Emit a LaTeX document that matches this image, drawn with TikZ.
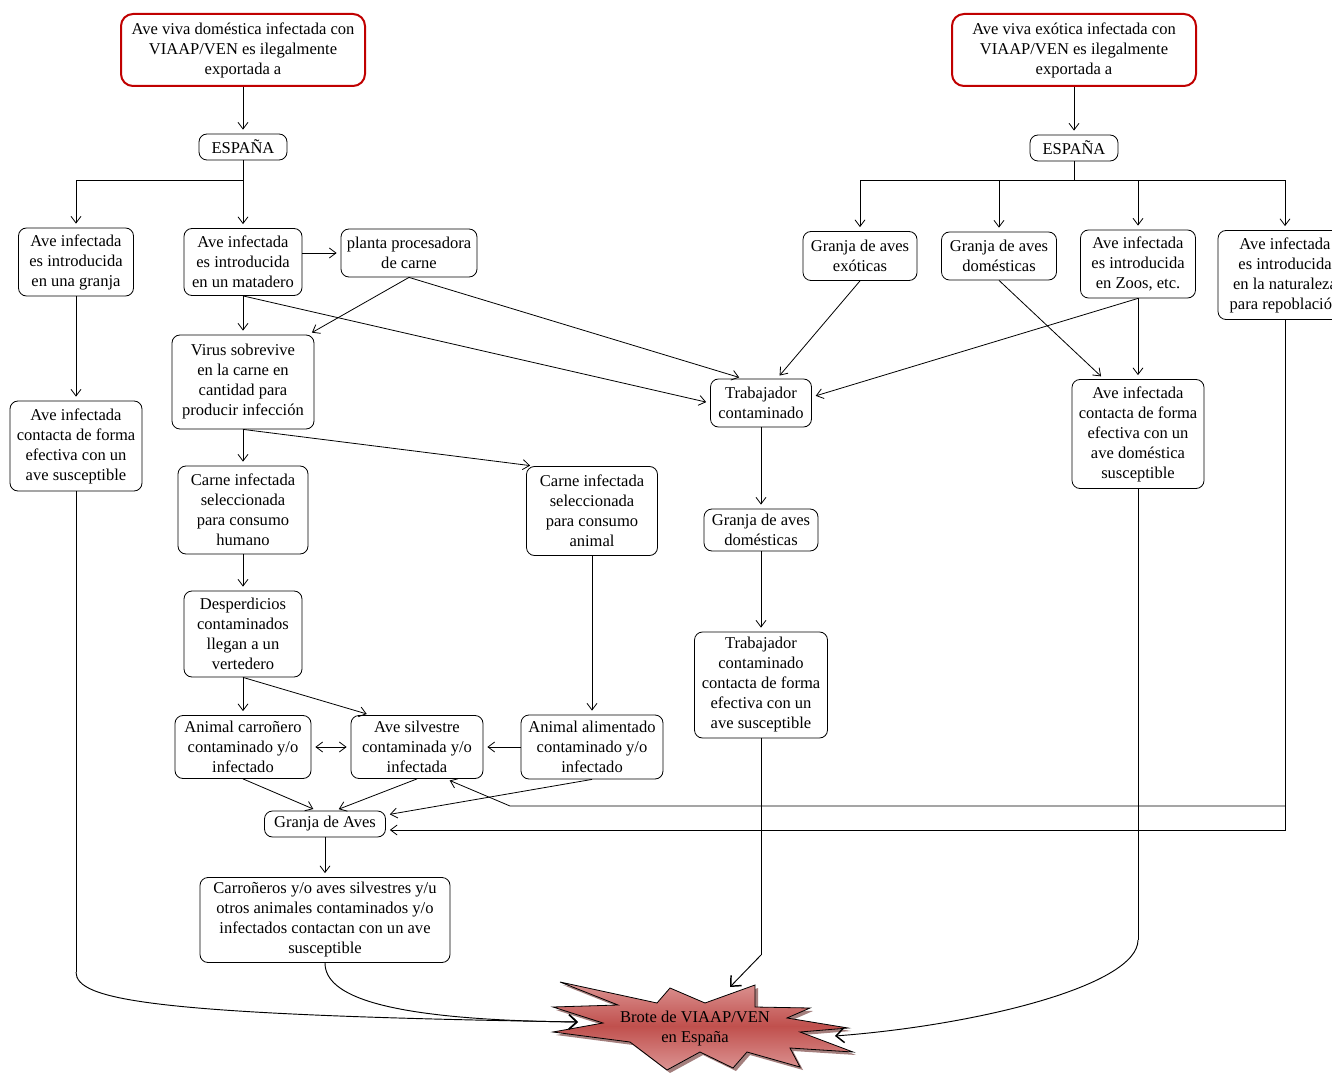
\documentclass[tikz,border=0pt]{standalone}
\usepackage{fontspec}
\setmainfont{Liberation Serif}
\usetikzlibrary{arrows.meta,calc}
\definecolor{boxred}{HTML}{C00000}
\definecolor{starlt}{HTML}{DC9493}
\definecolor{stardk}{HTML}{C0504D}
\definecolor{starsh}{HTML}{5A1614}
\begin{document}
\begin{tikzpicture}[x=0.75pt,y=-0.75pt,
  box/.style={draw, rounded corners=6pt, align=center, inner sep=1pt, line width=0.6pt, font=\fontsize{12.4}{15}\selectfont},
  redbox/.style={box, draw=boxred, line width=1.5pt, rounded corners=9pt},
  sz/.style 2 args={minimum width={#1*0.75pt}, minimum height={#2*0.75pt}},
  ln/.style={line width=0.6pt},
  arr/.style={ln, -{Straight Barb[length=5pt,width=7.5pt]}, shorten >=3pt},
  dbl/.style={ln, {Straight Barb[length=5pt,width=7.5pt]}-{Straight Barb[length=5pt,width=7.5pt]}, shorten >=3pt, shorten <=3pt},
  bigarr/.style={line width=0.7pt, -{Straight Barb[length=6pt,width=11pt,line width=1.1pt]}}
]
\useasboundingbox (0,0) rectangle (1332,1073);
\fill[white] (0,0) rectangle (1332,1073);
\clip (0,0) rectangle (1332,1073);

% ---- starburst ----
\def\starpath{(560,982) -- (657,1003) -- (670,988) -- (705,1003) -- (755,985) -- (755,1007) -- (810,1008) -- (787,1018) -- (848,1028) -- (800,1032) -- (853,1052) -- (790,1048) -- (800,1067) -- (747,1052) -- (733,1068) -- (700,1052) -- (667,1070) -- (630,1042) -- (553,1032) -- (603,1023) -- (553,1007) -- (618,1005) -- cycle}
\fill[starsh, opacity=0.55, shift={(3,3)}] \starpath;
\shade[top color=starlt, bottom color=starlt, middle color=stardk, draw=black, line width=0.6pt] \starpath;
\node[align=center, font=\fontsize{12.4}{15}\selectfont, inner sep=0pt] (brote) at (695,1029) {Brote de VIAAP/VEN\\en España};

% ---- nodes ----
\node[redbox, sz={244}{72}] (topL) at (243,50) {Ave viva doméstica infectada con\\VIAAP/VEN es ilegalmente\\exportada a};
\node[redbox, sz={244}{72}] (topR) at (1074,50) {Ave viva exótica infectada con\\VIAAP/VEN es ilegalmente\\exportada a};
\node[box, sz={88}{26}] (espL) at (243,147) {ESPAÑA};
\node[box, sz={88}{26}] (espR) at (1074,148) {ESPAÑA};
\node[box, sz={115}{68}] (ngranja) at (76,262) {Ave infectada\\es introducida\\en una granja};
\node[box, sz={118}{67}] (nmat) at (243,262) {Ave infectada\\es introducida\\en un matadero};
\node[box, sz={136}{48}] (planta) at (409,253) {planta procesadora\\de carne};
\node[box, sz={142}{94}] (virus) at (243,382) {Virus sobrevive\\en la carne en\\cantidad para\\producir infección};
\node[box, sz={132}{90}] (aveL) at (76,446) {Ave infectada\\contacta de forma\\efectiva con un\\ave susceptible};
\node[box, sz={130}{88}] (chum) at (243,510) {Carne infectada\\seleccionada\\para consumo\\humano};
\node[box, sz={131}{89}] (cani) at (592,511) {Carne infectada\\seleccionada\\para consumo\\animal};
\node[box, sz={118}{86}] (desp) at (243,634) {Desperdicios\\contaminados\\llegan a un\\vertedero};
\node[box, sz={136}{63}] (carr) at (243,747) {Animal carroñero\\contaminado y/o\\infectado};
\node[box, sz={132}{63}] (silv) at (417,747) {Ave silvestre\\contaminada y/o\\infectada};
\node[box, sz={142}{64}] (alim) at (592,747) {Animal alimentado\\contaminado y/o\\infectado};
\node[box, sz={121}{26}] (gA) at (325,824) {Granja de Aves};
\node[box, sz={250}{85}] (carrB) at (325,920) {Carroñeros y/o aves silvestres y/u\\otros animales contaminados y/o\\infectados contactan con un ave\\susceptible};
\node[box, sz={101}{48}] (trab) at (761,403) {Trabajador\\contaminado};
\node[box, sz={114}{42}] (gdomM) at (761,530) {Granja de aves\\domésticas};
\node[box, sz={133}{106}] (trab2) at (761,685) {Trabajador\\contaminado\\contacta de forma\\efectiva con un\\ave susceptible};
\node[box, sz={114}{49}] (gexo) at (860,256) {Granja de aves\\exóticas};
\node[box, sz={115}{48}] (gdomR) at (999,256) {Granja de aves\\domésticas};
\node[box, sz={115}{68}] (zoos) at (1138,264) {Ave infectada\\es introducida\\en Zoos, etc.};
\node[box, sz={134}{89}] (nat) at (1285,275) {Ave infectada\\es introducida\\en la naturaleza\\para repoblación};
\node[box, sz={132}{109}] (aveR) at (1138,434) {Ave infectada\\contacta de forma\\efectiva con un\\ave doméstica\\susceptible};

% ---- connectors ----
\draw[arr] (topL.south) -- (espL.north);
\draw[arr] (topR.south) -- (espR.north);
\coordinate (jL) at (243,180);
\draw[ln] (espL.south) -- (jL);
\draw[arr] (jL) -| (ngranja.north);
\draw[arr] (jL) -- (nmat.north);
\coordinate (jR) at (1074,180);
\draw[ln] (espR.south) -- (jR);
\draw[arr] (jR) -| (gexo.north);
\draw[arr] (jR) -| (gdomR.north);
\draw[arr] (jR) -| (zoos.north);
\draw[arr] (jR) -| (nat.north);

\draw[arr] (nmat.east |- planta.west) -- (planta.west);
\draw[arr] (nmat.south) -- (virus.north);
\draw[arr] (nmat.south) -- (trab.west);
\draw[arr] (planta.south) -- ($(virus.north east)+(-6,0)$);
\draw[arr] (planta.south) -- ($(trab.north)+(-18,0)$);
\draw[arr] (gexo.south) -- ($(trab.north)+(16,0)$);
\draw[arr] (zoos.south) -- ($(trab.east)+(0,-6)$);
\draw[arr] (zoos.south) -- (aveR.north);
\draw[arr] (gdomR.south) -- ($(aveR.north)+(-34,0)$);
\draw[arr] (ngranja.south) -- (aveL.north);

\draw[arr] (virus.south) -- (chum.north);
\draw[arr] (virus.south) -- ($(cani.north west)+(8,0)$);
\draw[arr] (chum.south) -- (desp.north);
\draw[arr] (desp.south) -- (carr.north);
\draw[arr] (desp.south) -- ($(silv.north west)+(20,0)$);
\draw[arr] (cani.south) -- (alim.north);
\draw[arr] (alim.west) -- (silv.east);
\draw[dbl] (carr.east) -- (silv.west);
\draw[arr] (carr.south) -- ($(gA.north)+(-8,0)$);
\draw[arr] (silv.south) -- ($(gA.north)+(10,0)$);
\draw[arr] (alim.south) -- ($(gA.east)+(0,-9)$);
\draw[arr] (nat.south) |- ($(gA.east)+(0,6)$);
\coordinate (kk) at (510,806);
\coordinate (nb) at (nat.south |- kk);
\draw[arr] (nb) -- (kk) -- ($(silv.south)+(29,0)$);
\draw[arr] (gA.south) -- (carrB.north);

\draw[arr] (trab.south) -- (gdomM.north);
\draw[arr] (gdomM.south) -- (trab2.north);

% ---- into the outbreak ----
\coordinate (bW) at (578,1022);
\coordinate (bE) at (835,1036);
\coordinate (bN) at (730,987);
\coordinate (cL) at (76,972);
\draw[ln] (aveL.south) -- (cL);
\draw[bigarr] (cL) .. controls (76,1000) and (150,1015) .. (bW);
\draw[bigarr] (carrB.south) .. controls (325,995) and (380,1020) .. (bW);
\coordinate (cT) at (761,955);
\draw[ln] (trab2.south) -- (cT);
\draw[bigarr] (cT) -- (bN);
\coordinate (cR) at (1138,940);
\draw[ln] (aveR.south) -- (cR);
\draw[bigarr] (cR) .. controls (1138,985) and (980,1025) .. (bE);
\end{tikzpicture}
\end{document}
